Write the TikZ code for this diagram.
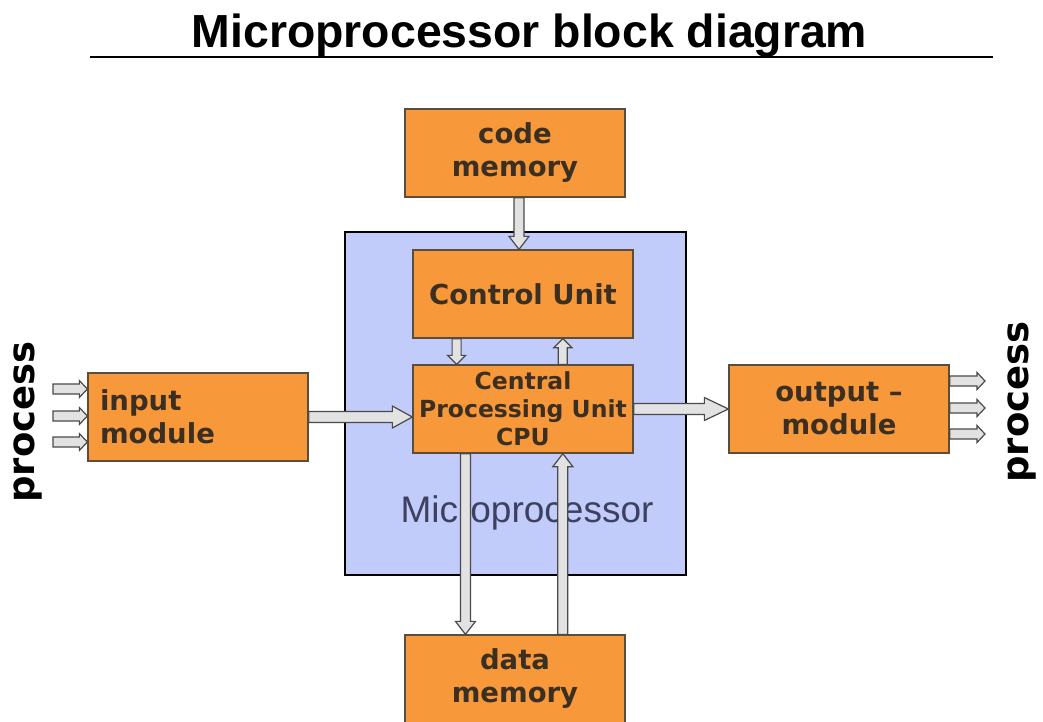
\documentclass[tikz,border=0pt]{standalone}
\usepackage{fontspec}
\usetikzlibrary{calc}
\newfontfamily\boxfont{DejaVu Sans}
\newfontfamily\arialfont{Liberation Sans}

\definecolor{blockfill}{HTML}{F7983A}
\definecolor{blockline}{HTML}{5C4C3C}
\definecolor{blocktext}{HTML}{3B2F22}
\definecolor{chipfill}{HTML}{C2CCFA}
\definecolor{chiptext}{HTML}{3E4060}
\definecolor{busfill}{HTML}{E2E2E2}
\definecolor{busline}{HTML}{4A4A4A}

% hollow block arrow: from, to, shaft half-width, head half-width, head length
\newcommand\busarrow[5]{%
  \path (#2) coordinate (ba-tip) ($(#2)!#5!(#1)$) coordinate (ba-base);
  \draw[bus] ($(#1)!#3!90:(#2)$) -- ($(ba-base)!#3!-90:(#1)$)
    -- ($(ba-base)!#4!-90:(#1)$) -- (ba-tip)
    -- ($(ba-base)!#4!90:(#1)$) -- ($(ba-base)!#3!90:(#1)$)
    -- ($(#1)!#3!-90:(#2)$) -- cycle;}

\tikzset{
  block/.style={draw=blockline, line width=1.3pt, fill=blockfill,
    minimum width=220pt, minimum height=88pt, inner sep=0pt,
    text=blocktext, align=center,
    font=\boxfont\bfseries\fontsize{27.5}{33}\selectfont},
  bus/.style={draw=busline, fill=busfill, line width=1.2pt, line join=miter},
  sidelabel/.style={rotate=90, inner sep=0pt,
    font=\boxfont\bfseries\fontsize{37}{40}\selectfont},
}

\begin{document}
\begin{tikzpicture}[x=1pt, y=-1pt]
\useasboundingbox (0,0) rectangle (1043,722);
\fill[white] (0,0) rectangle (1043,722);

% title
\node[anchor=base, inner sep=0pt, font=\arialfont\bfseries\fontsize{46.4}{54}\selectfont]
  (title) at (529.5,48) {Microprocessor block diagram};
\draw[line width=1.3pt] (90,57) coordinate (rule-l) -- (993,57) coordinate (rule-r);

% microprocessor package
\node[draw=black, line width=2.2pt, fill=chipfill, minimum width=341pt,
  minimum height=343pt, inner sep=0pt] (mp) at (515.5,403.5) {};
\node[anchor=base, inner sep=0pt, text=chiptext,
  font=\arialfont\fontsize{37}{40}\selectfont] (mplabel) at (527,522) {Microprocessor};

% functional blocks
\node[block] (cm) at (515,153) {code\\memory};
\node[block] (cu) at (523,294) {Control Unit};
\node[block, font=\boxfont\bfseries\fontsize{23.5}{28}\selectfont] (cpu) at (523,409)
  {Central\\Processing Unit\\CPU};
\node[block, align=left, text width=196pt, inner xsep=12pt] (in) at (198,417) {input\\module};
\node[block] (out) at (839,409) {output –\\module};
\node[block] (dm) at (515,679) {data\\memory};

% process labels
\node[sidelabel] (pin) at (28,422) {process};
\node[sidelabel] (pout) at (1022,402) {process};

% bus attachment points
\coordinate (cm-b)  at ($(cm.south)+(4,0)$);
\coordinate (cu-t)  at (cm-b |- cu.north);
\coordinate (cu-bl) at ($(cu.south west)!0.2!(cu.south east)$);
\coordinate (cu-br) at ($(cu.south west)!0.68!(cu.south east)$);
\coordinate (cpu-tl) at ($(cpu.north west)!0.2!(cpu.north east)$);
\coordinate (cpu-tr) at ($(cpu.north west)!0.68!(cpu.north east)$);
\coordinate (cpu-bl) at ($(cpu.south west)!0.24!(cpu.south east)$);
\coordinate (cpu-br) at ($(cpu.south west)!0.68!(cpu.south east)$);
\coordinate (dm-tl) at (cpu-bl |- dm.north);
\coordinate (dm-tr) at (cpu-br |- dm.north);
\coordinate (in-r)  at (in.east);
\coordinate (cpu-l) at (in.east -| cpu.west);
\coordinate (cpu-r) at (cpu.east);
\coordinate (out-l) at (out.west);

% internal buses
\busarrow{cm-b}{cu-t}{5pt}{10pt}{13pt}
\busarrow{cu-bl}{cpu-tl}{4.5pt}{9pt}{9pt}
\busarrow{cpu-tr}{cu-br}{4.5pt}{9pt}{9pt}
\busarrow{in-r}{cpu-l}{5.5pt}{11pt}{20pt}
\busarrow{cpu-r}{out-l}{5.5pt}{11.5pt}{24pt}
\busarrow{cpu-bl}{dm-tl}{5pt}{10pt}{13pt}
\busarrow{dm-tr}{cpu-br}{5pt}{10pt}{13pt}

% process inputs
\coordinate (ip1) at (53,389);
\coordinate (ip2) at (53,416);
\coordinate (ip3) at (53,442);
\coordinate (ie1) at (ip1 -| in.west);
\coordinate (ie2) at (ip2 -| in.west);
\coordinate (ie3) at (ip3 -| in.west);
\busarrow{ip1}{ie1}{5pt}{8.5pt}{8pt}
\busarrow{ip2}{ie2}{5pt}{8.5pt}{8pt}
\busarrow{ip3}{ie3}{5pt}{8.5pt}{8pt}

% process outputs
\coordinate (op1) at (985,381);
\coordinate (op2) at (985,408);
\coordinate (op3) at (985,434);
\coordinate (oe1) at (op1 -| out.east);
\coordinate (oe2) at (op2 -| out.east);
\coordinate (oe3) at (op3 -| out.east);
\busarrow{oe1}{op1}{5pt}{8.5pt}{8pt}
\busarrow{oe2}{op2}{5pt}{8.5pt}{8pt}
\busarrow{oe3}{op3}{5pt}{8.5pt}{8pt}
\end{tikzpicture}
\end{document}
